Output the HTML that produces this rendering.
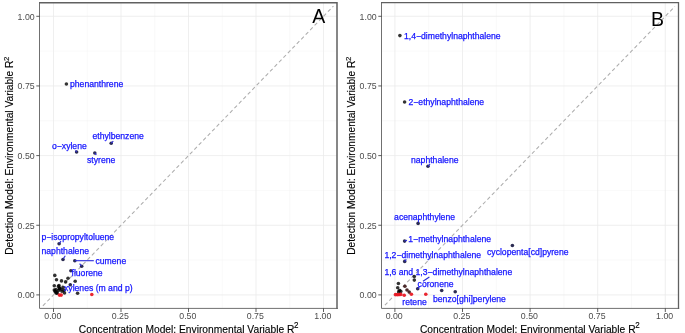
<!DOCTYPE html>
<html><head><meta charset="utf-8"><title>Figure</title>
<style>
html,body{margin:0;padding:0;background:#fff;}
svg{display:block;font-family:"Liberation Sans",sans-serif;}
.tk{font-size:8.8px;fill:#4d4d4d;}
.ti{font-size:10.25px;fill:#000;stroke:#000;stroke-width:0.12px;}
.lb{font-size:8.65px;fill:#1414ff;stroke:#1414ff;stroke-width:0.25px;}
.pl{font-size:21px;fill:#000;}
</style></head><body>
<svg width="685" height="333" viewBox="0 0 685 333">
<rect width="685" height="333" fill="#fff"/>
<g>
<rect x="39.5" y="2.8" width="297.5" height="305.6" fill="#fff"/>
<line x1="87.25" y1="2.8" x2="87.25" y2="308.4" stroke="#f3f3f3" stroke-width="0.5"/>
<line x1="39.5" y1="260.07" x2="337.0" y2="260.07" stroke="#f3f3f3" stroke-width="0.5"/>
<line x1="154.75" y1="2.8" x2="154.75" y2="308.4" stroke="#f3f3f3" stroke-width="0.5"/>
<line x1="39.5" y1="190.42" x2="337.0" y2="190.42" stroke="#f3f3f3" stroke-width="0.5"/>
<line x1="222.25" y1="2.8" x2="222.25" y2="308.4" stroke="#f3f3f3" stroke-width="0.5"/>
<line x1="39.5" y1="120.77" x2="337.0" y2="120.77" stroke="#f3f3f3" stroke-width="0.5"/>
<line x1="289.75" y1="2.8" x2="289.75" y2="308.4" stroke="#f3f3f3" stroke-width="0.5"/>
<line x1="39.5" y1="51.12" x2="337.0" y2="51.12" stroke="#f3f3f3" stroke-width="0.5"/>
<line x1="53.5" y1="2.8" x2="53.5" y2="308.4" stroke="#ebebeb" stroke-width="0.8"/>
<line x1="39.5" y1="294.9" x2="337.0" y2="294.9" stroke="#ebebeb" stroke-width="0.8"/>
<line x1="121" y1="2.8" x2="121" y2="308.4" stroke="#ebebeb" stroke-width="0.8"/>
<line x1="39.5" y1="225.25" x2="337.0" y2="225.25" stroke="#ebebeb" stroke-width="0.8"/>
<line x1="188.5" y1="2.8" x2="188.5" y2="308.4" stroke="#ebebeb" stroke-width="0.8"/>
<line x1="39.5" y1="155.6" x2="337.0" y2="155.6" stroke="#ebebeb" stroke-width="0.8"/>
<line x1="256" y1="2.8" x2="256" y2="308.4" stroke="#ebebeb" stroke-width="0.8"/>
<line x1="39.5" y1="85.95" x2="337.0" y2="85.95" stroke="#ebebeb" stroke-width="0.8"/>
<line x1="323.5" y1="2.8" x2="323.5" y2="308.4" stroke="#ebebeb" stroke-width="0.8"/>
<line x1="39.5" y1="16.3" x2="337.0" y2="16.3" stroke="#ebebeb" stroke-width="0.8"/>
<line x1="42.9" y1="305.84" x2="333.4" y2="6.08" stroke="#adadad" stroke-width="1.05" stroke-dasharray="3.7 2.7"/>
<circle cx="54.8" cy="275.4" r="1.8" fill="#000" fill-opacity="0.8"/>
<circle cx="56.5" cy="279.7" r="1.8" fill="#000" fill-opacity="0.8"/>
<circle cx="61.5" cy="280.9" r="1.8" fill="#000" fill-opacity="0.8"/>
<circle cx="65.6" cy="281.9" r="1.8" fill="#000" fill-opacity="0.8"/>
<circle cx="68" cy="278.3" r="1.8" fill="#000" fill-opacity="0.8"/>
<circle cx="75.2" cy="281.2" r="1.8" fill="#000" fill-opacity="0.8"/>
<circle cx="77.6" cy="293.2" r="1.8" fill="#000" fill-opacity="0.8"/>
<circle cx="54.3" cy="285.7" r="1.8" fill="#000" fill-opacity="0.8"/>
<circle cx="58.4" cy="286.4" r="1.8" fill="#000" fill-opacity="0.8"/>
<circle cx="59.6" cy="288.8" r="1.8" fill="#000" fill-opacity="0.8"/>
<circle cx="56" cy="289.6" r="1.8" fill="#000" fill-opacity="0.8"/>
<circle cx="54.3" cy="290" r="1.8" fill="#000" fill-opacity="0.8"/>
<circle cx="63.2" cy="287.6" r="1.8" fill="#000" fill-opacity="0.8"/>
<circle cx="62" cy="291.2" r="1.8" fill="#000" fill-opacity="0.8"/>
<circle cx="57.2" cy="292.9" r="1.8" fill="#000" fill-opacity="0.8"/>
<circle cx="55.5" cy="292" r="1.8" fill="#000" fill-opacity="0.8"/>
<circle cx="66.4" cy="84" r="1.8" fill="#000" fill-opacity="0.8"/>
<circle cx="59" cy="285.5" r="1.8" fill="#000" fill-opacity="0.8"/>
<circle cx="59.5" cy="288" r="1.8" fill="#000" fill-opacity="0.8"/>
<circle cx="58.5" cy="290.5" r="1.8" fill="#000" fill-opacity="0.8"/>
<circle cx="55" cy="291" r="1.8" fill="#000" fill-opacity="0.8"/>
<circle cx="56.5" cy="293.2" r="1.8" fill="#000" fill-opacity="0.8"/>
<circle cx="64" cy="290.5" r="1.8" fill="#000" fill-opacity="0.8"/>
<circle cx="64.5" cy="293" r="1.8" fill="#000" fill-opacity="0.8"/>
<circle cx="61" cy="289.3" r="1.8" fill="#000" fill-opacity="0.8"/>
<circle cx="111.2" cy="143.2" r="1.8" fill="#15153f" fill-opacity="0.9"/>
<circle cx="76.6" cy="152" r="1.8" fill="#15153f" fill-opacity="0.9"/>
<circle cx="94.8" cy="153" r="1.8" fill="#15153f" fill-opacity="0.9"/>
<circle cx="59.1" cy="243.7" r="1.8" fill="#15153f" fill-opacity="0.9"/>
<circle cx="63" cy="259.5" r="1.8" fill="#15153f" fill-opacity="0.9"/>
<circle cx="74.8" cy="260.7" r="1.8" fill="#15153f" fill-opacity="0.9"/>
<circle cx="81.7" cy="266.3" r="1.8" fill="#15153f" fill-opacity="0.9"/>
<circle cx="70.9" cy="270.8" r="1.8" fill="#15153f" fill-opacity="0.9"/>
<circle cx="70.3" cy="284.8" r="1.8" fill="#15153f" fill-opacity="0.9"/>
<circle cx="59.4" cy="295.1" r="1.8" fill="#e8141e" fill-opacity="0.92"/>
<circle cx="61.2" cy="295.1" r="1.8" fill="#e8141e" fill-opacity="0.92"/>
<circle cx="91.8" cy="294.5" r="1.8" fill="#e8141e" fill-opacity="0.92"/>
<line x1="75" y1="260.7" x2="93.8" y2="260.7" stroke="#2a2ad8" stroke-width="1.1"/>
<line x1="111.2" y1="143.2" x2="113.3" y2="141.2" stroke="#2a2ad8" stroke-width="1.1"/>
<line x1="76.6" y1="152" x2="75.6" y2="150.4" stroke="#2a2ad8" stroke-width="1.1"/>
<line x1="94.8" y1="153" x2="96.3" y2="154.8" stroke="#2a2ad8" stroke-width="1.1"/>
<line x1="63.3" y1="258.6" x2="65.3" y2="255.8" stroke="#2a2ad8" stroke-width="1.1"/>
<line x1="59.4" y1="243.3" x2="61" y2="241.2" stroke="#2a2ad8" stroke-width="1.1"/>
<line x1="81.3" y1="265.8" x2="79.6" y2="263.6" stroke="#2a2ad8" stroke-width="1.1"/>
<text class="lb" x="70" y="87.4">phenanthrene</text>
<text class="lb" x="92.5" y="139.4">ethylbenzene</text>
<text class="lb" x="52" y="148.9">o−xylene</text>
<text class="lb" x="87" y="163.4">styrene</text>
<text class="lb" x="41.5" y="240.4">p−isopropyltoluene</text>
<text class="lb" x="41.5" y="253.9">naphthalene</text>
<text class="lb" x="95.5" y="263.9">cumene</text>
<text class="lb" x="71.5" y="276.4">fluorene</text>
<text class="lb" x="64" y="290.9">xylenes (m and p)</text>
<path d="M39.5 2.05V308.4H337.75" fill="none" stroke="#707070" stroke-width="1"/>
<path d="M39 2.8H337.0V308.9" fill="none" stroke="#606060" stroke-width="1.5"/>
<line x1="36.3" y1="294.9" x2="39.5" y2="294.9" stroke="#333" stroke-width="0.8"/>
<text class="tk" transform="translate(34.7,298.25) scale(1,1.06)" text-anchor="end">0.00</text>
<line x1="53.5" y1="308.4" x2="53.5" y2="312" stroke="#333" stroke-width="0.8"/>
<text class="tk" transform="translate(52.8,318.6) scale(1,1.06)" text-anchor="middle">0.00</text>
<line x1="36.3" y1="225.25" x2="39.5" y2="225.25" stroke="#333" stroke-width="0.8"/>
<text class="tk" transform="translate(34.7,228.6) scale(1,1.06)" text-anchor="end">0.25</text>
<line x1="121" y1="308.4" x2="121" y2="312" stroke="#333" stroke-width="0.8"/>
<text class="tk" transform="translate(120.3,318.6) scale(1,1.06)" text-anchor="middle">0.25</text>
<line x1="36.3" y1="155.6" x2="39.5" y2="155.6" stroke="#333" stroke-width="0.8"/>
<text class="tk" transform="translate(34.7,158.95) scale(1,1.06)" text-anchor="end">0.50</text>
<line x1="188.5" y1="308.4" x2="188.5" y2="312" stroke="#333" stroke-width="0.8"/>
<text class="tk" transform="translate(187.8,318.6) scale(1,1.06)" text-anchor="middle">0.50</text>
<line x1="36.3" y1="85.95" x2="39.5" y2="85.95" stroke="#333" stroke-width="0.8"/>
<text class="tk" transform="translate(34.7,89.3) scale(1,1.06)" text-anchor="end">0.75</text>
<line x1="256" y1="308.4" x2="256" y2="312" stroke="#333" stroke-width="0.8"/>
<text class="tk" transform="translate(255.3,318.6) scale(1,1.06)" text-anchor="middle">0.75</text>
<line x1="36.3" y1="16.3" x2="39.5" y2="16.3" stroke="#333" stroke-width="0.8"/>
<text class="tk" transform="translate(34.7,19.65) scale(1,1.06)" text-anchor="end">1.00</text>
<line x1="323.5" y1="308.4" x2="323.5" y2="312" stroke="#333" stroke-width="0.8"/>
<text class="tk" transform="translate(322.8,318.6) scale(1,1.06)" text-anchor="middle">1.00</text>
<text class="ti" transform="translate(78.8,332.9) scale(1,1.07)">Concentration Model: Environmental Variable R<tspan dy="-4.6" dx="-0.4" font-size="8">2</tspan></text>
<text class="ti" transform="translate(13.1,254.8) rotate(-90)" style="font-size:10.2px">Detection Model: Environmental Variable R<tspan dy="-4.4" dx="-0.3" font-size="8">2</tspan></text>
<text class="pl" transform="translate(318.8,23) scale(0.93,1)" text-anchor="middle">A</text>
</g>
<g>
<rect x="381.5" y="2.7" width="297" height="305.7" fill="#fff"/>
<line x1="428.7" y1="2.7" x2="428.7" y2="308.4" stroke="#f3f3f3" stroke-width="0.5"/>
<line x1="381.5" y1="260.07" x2="678.5" y2="260.07" stroke="#f3f3f3" stroke-width="0.5"/>
<line x1="496.3" y1="2.7" x2="496.3" y2="308.4" stroke="#f3f3f3" stroke-width="0.5"/>
<line x1="381.5" y1="190.42" x2="678.5" y2="190.42" stroke="#f3f3f3" stroke-width="0.5"/>
<line x1="563.9" y1="2.7" x2="563.9" y2="308.4" stroke="#f3f3f3" stroke-width="0.5"/>
<line x1="381.5" y1="120.77" x2="678.5" y2="120.77" stroke="#f3f3f3" stroke-width="0.5"/>
<line x1="631.5" y1="2.7" x2="631.5" y2="308.4" stroke="#f3f3f3" stroke-width="0.5"/>
<line x1="381.5" y1="51.12" x2="678.5" y2="51.12" stroke="#f3f3f3" stroke-width="0.5"/>
<line x1="394.9" y1="2.7" x2="394.9" y2="308.4" stroke="#ebebeb" stroke-width="0.8"/>
<line x1="381.5" y1="294.9" x2="678.5" y2="294.9" stroke="#ebebeb" stroke-width="0.8"/>
<line x1="462.5" y1="2.7" x2="462.5" y2="308.4" stroke="#ebebeb" stroke-width="0.8"/>
<line x1="381.5" y1="225.25" x2="678.5" y2="225.25" stroke="#ebebeb" stroke-width="0.8"/>
<line x1="530.1" y1="2.7" x2="530.1" y2="308.4" stroke="#ebebeb" stroke-width="0.8"/>
<line x1="381.5" y1="155.6" x2="678.5" y2="155.6" stroke="#ebebeb" stroke-width="0.8"/>
<line x1="597.7" y1="2.7" x2="597.7" y2="308.4" stroke="#ebebeb" stroke-width="0.8"/>
<line x1="381.5" y1="85.95" x2="678.5" y2="85.95" stroke="#ebebeb" stroke-width="0.8"/>
<line x1="665.3" y1="2.7" x2="665.3" y2="308.4" stroke="#ebebeb" stroke-width="0.8"/>
<line x1="381.5" y1="16.3" x2="678.5" y2="16.3" stroke="#ebebeb" stroke-width="0.8"/>
<line x1="384.9" y1="305.2" x2="674.9" y2="6.41" stroke="#adadad" stroke-width="1.05" stroke-dasharray="3.7 2.7"/>
<circle cx="414.3" cy="276.5" r="1.8" fill="#000" fill-opacity="0.8"/>
<circle cx="414.3" cy="280.1" r="1.8" fill="#000" fill-opacity="0.8"/>
<circle cx="398.4" cy="283.5" r="1.8" fill="#000" fill-opacity="0.8"/>
<circle cx="397.7" cy="287.8" r="1.8" fill="#000" fill-opacity="0.8"/>
<circle cx="399.5" cy="290.5" r="1.8" fill="#000" fill-opacity="0.8"/>
<circle cx="400.8" cy="291.4" r="1.8" fill="#000" fill-opacity="0.8"/>
<circle cx="398.6" cy="291.9" r="1.8" fill="#000" fill-opacity="0.8"/>
<circle cx="399.9" cy="35.6" r="1.8" fill="#000" fill-opacity="0.8"/>
<circle cx="404.6" cy="102" r="1.8" fill="#000" fill-opacity="0.8"/>
<circle cx="404.9" cy="286.3" r="1.8" fill="#3a1414" fill-opacity="0.9"/>
<circle cx="407" cy="290" r="1.8" fill="#3a1414" fill-opacity="0.9"/>
<circle cx="409.2" cy="292.1" r="1.8" fill="#3a1414" fill-opacity="0.9"/>
<circle cx="428" cy="166.3" r="1.8" fill="#15153f" fill-opacity="0.9"/>
<circle cx="418.1" cy="223.4" r="1.8" fill="#15153f" fill-opacity="0.9"/>
<circle cx="404.6" cy="241.1" r="1.8" fill="#15153f" fill-opacity="0.9"/>
<circle cx="512.4" cy="245.5" r="1.8" fill="#15153f" fill-opacity="0.9"/>
<circle cx="404.7" cy="261.4" r="1.8" fill="#15153f" fill-opacity="0.9"/>
<circle cx="417.7" cy="288.7" r="1.8" fill="#15153f" fill-opacity="0.9"/>
<circle cx="441.7" cy="290.5" r="1.8" fill="#15153f" fill-opacity="0.9"/>
<circle cx="455.2" cy="291.8" r="1.8" fill="#15153f" fill-opacity="0.9"/>
<circle cx="395.5" cy="294.6" r="1.8" fill="#e8141e" fill-opacity="0.92"/>
<circle cx="397.2" cy="294.8" r="1.8" fill="#e8141e" fill-opacity="0.92"/>
<circle cx="399" cy="294.6" r="1.8" fill="#e8141e" fill-opacity="0.92"/>
<circle cx="400.8" cy="294.4" r="1.8" fill="#e8141e" fill-opacity="0.92"/>
<circle cx="404.2" cy="295.2" r="1.8" fill="#e8141e" fill-opacity="0.92"/>
<circle cx="411.4" cy="294.3" r="1.8" fill="#e8141e" fill-opacity="0.92"/>
<circle cx="425.8" cy="294.3" r="1.8" fill="#e8141e" fill-opacity="0.92"/>
<line x1="423" y1="281.3" x2="429.4" y2="277" stroke="#2a2ad8" stroke-width="1.1"/>
<line x1="417.7" y1="288.7" x2="419.6" y2="286.4" stroke="#2a2ad8" stroke-width="1.1"/>
<line x1="428" y1="166.3" x2="430" y2="164" stroke="#2a2ad8" stroke-width="1.1"/>
<line x1="404.6" y1="241.1" x2="407" y2="240.3" stroke="#2a2ad8" stroke-width="1.1"/>
<line x1="404.7" y1="261.4" x2="406.3" y2="259.3" stroke="#2a2ad8" stroke-width="1.1"/>
<text class="lb" x="404" y="39.3">1,4−dimethylnaphthalene</text>
<text class="lb" x="408.5" y="105.4">2−ethylnaphthalene</text>
<text class="lb" x="411" y="163.4">naphthalene</text>
<text class="lb" x="394.1" y="220.2">acenaphthylene</text>
<text class="lb" x="408.3" y="241.8">1−methylnaphthalene</text>
<text class="lb" x="487" y="255.4">cyclopenta[cd]pyrene</text>
<text class="lb" x="384.4" y="257.7">1,2−dimethylnaphthalene</text>
<text class="lb" x="384.4" y="275.3">1,6 and 1,3−dimethylnaphthalene</text>
<text class="lb" x="417.6" y="287.4">coronene</text>
<text class="lb" x="402.3" y="304.9">retene</text>
<text class="lb" x="433" y="302.4">benzo[ghi]perylene</text>
<path d="M381.5 2.05V308.4H679.15" fill="none" stroke="#707070" stroke-width="1"/>
<path d="M381 2.7H678.5V308.9" fill="none" stroke="#606060" stroke-width="1.3"/>
<line x1="378.3" y1="294.9" x2="381.5" y2="294.9" stroke="#333" stroke-width="0.8"/>
<text class="tk" transform="translate(376.7,298.25) scale(1,1.06)" text-anchor="end">0.00</text>
<line x1="394.9" y1="308.4" x2="394.9" y2="312" stroke="#333" stroke-width="0.8"/>
<text class="tk" transform="translate(394.2,318.6) scale(1,1.06)" text-anchor="middle">0.00</text>
<line x1="378.3" y1="225.25" x2="381.5" y2="225.25" stroke="#333" stroke-width="0.8"/>
<text class="tk" transform="translate(376.7,228.6) scale(1,1.06)" text-anchor="end">0.25</text>
<line x1="462.5" y1="308.4" x2="462.5" y2="312" stroke="#333" stroke-width="0.8"/>
<text class="tk" transform="translate(461.8,318.6) scale(1,1.06)" text-anchor="middle">0.25</text>
<line x1="378.3" y1="155.6" x2="381.5" y2="155.6" stroke="#333" stroke-width="0.8"/>
<text class="tk" transform="translate(376.7,158.95) scale(1,1.06)" text-anchor="end">0.50</text>
<line x1="530.1" y1="308.4" x2="530.1" y2="312" stroke="#333" stroke-width="0.8"/>
<text class="tk" transform="translate(529.4,318.6) scale(1,1.06)" text-anchor="middle">0.50</text>
<line x1="378.3" y1="85.95" x2="381.5" y2="85.95" stroke="#333" stroke-width="0.8"/>
<text class="tk" transform="translate(376.7,89.3) scale(1,1.06)" text-anchor="end">0.75</text>
<line x1="597.7" y1="308.4" x2="597.7" y2="312" stroke="#333" stroke-width="0.8"/>
<text class="tk" transform="translate(597,318.6) scale(1,1.06)" text-anchor="middle">0.75</text>
<line x1="378.3" y1="16.3" x2="381.5" y2="16.3" stroke="#333" stroke-width="0.8"/>
<text class="tk" transform="translate(376.7,19.65) scale(1,1.06)" text-anchor="end">1.00</text>
<line x1="665.3" y1="308.4" x2="665.3" y2="312" stroke="#333" stroke-width="0.8"/>
<text class="tk" transform="translate(664.6,318.6) scale(1,1.06)" text-anchor="middle">1.00</text>
<text class="ti" transform="translate(419.9,332.9) scale(1,1.07)">Concentration Model: Environmental Variable R<tspan dy="-4.6" dx="-0.4" font-size="8">2</tspan></text>
<text class="ti" transform="translate(355.1,254.8) rotate(-90)" style="font-size:10.2px">Detection Model: Environmental Variable R<tspan dy="-4.4" dx="-0.3" font-size="8">2</tspan></text>
<text class="pl" transform="translate(657.5,26) scale(0.93,1)" text-anchor="middle">B</text>
</g>
</svg>
</body></html>
